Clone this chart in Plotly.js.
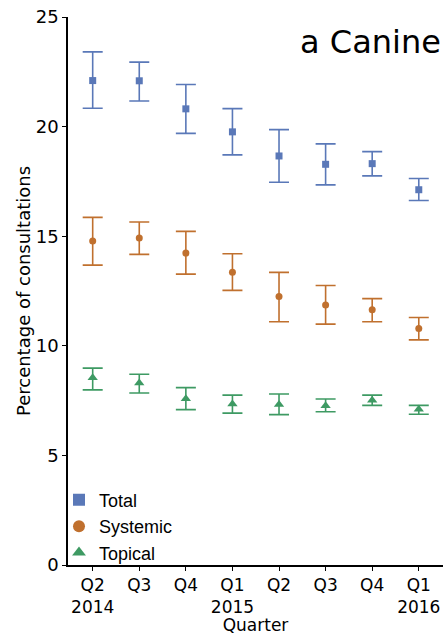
<!DOCTYPE html>
<html>
<head>
<meta charset="utf-8">
<script src="https://cdn.plot.ly/plotly-3.0.1.min.js"></script>
<style>html,body{margin:0;padding:0;background:#fff;}#chart{width:446px;height:635px;}</style>
</head>
<body>
<div id="chart"></div>
<script>
const quarters = [0, 1, 2, 3, 4, 5, 6, 7];
const tickLabels = ["Q2<br>2014", "Q3", "Q4", "Q1<br>2015", "Q2", "Q3", "Q4", "Q1<br>2016"];

const totalMean  = [22.10, 22.09, 20.81, 19.76, 18.66, 18.28, 18.31, 17.12];
const totalUpper = [23.41, 22.94, 21.92, 20.82, 19.86, 19.21, 18.86, 17.63];
const totalLower = [20.84, 21.17, 19.69, 18.71, 17.46, 17.34, 17.75, 16.63];

const systemicMean  = [14.78, 14.92, 14.23, 13.35, 12.25, 11.86, 11.64, 10.79];
const systemicUpper = [15.86, 15.65, 15.22, 14.20, 13.35, 12.75, 12.15, 11.29];
const systemicLower = [13.68, 14.17, 13.27, 12.53, 11.10, 10.99, 11.10, 10.27];

const topicalMean  = [8.54, 8.30, 7.59, 7.34, 7.32, 7.26, 7.52, 7.11];
const topicalUpper = [8.98, 8.70, 8.09, 7.75, 7.80, 7.57, 7.75, 7.28];
const topicalLower = [7.99, 7.85, 7.09, 6.93, 6.86, 6.99, 7.28, 6.88];

function mk(name, mean, up, lo, color, symbol, size) {
  return {
    type: 'scatter', mode: 'markers', name: name,
    x: quarters, y: mean,
    marker: {color: color, symbol: symbol, size: size},
    error_y: {
      type: 'data', symmetric: false,
      array: up.map((u, i) => u - mean[i]),
      arrayminus: lo.map((l, i) => mean[i] - l),
      color: color, thickness: 1.6, width: 10
    }
  };
}

const data = [
  mk('Total', totalMean, totalUpper, totalLower, '#5a78b8', 'square', 7),
  mk('Systemic', systemicMean, systemicUpper, systemicLower, '#c0702e', 'circle', 7),
  mk('Topical', topicalMean, topicalUpper, topicalLower, '#3e9a63', 'triangle-up', 9)
];

const dv = {family: 'DejaVu Sans, sans-serif', color: '#000'};
const ar = {family: 'Liberation Sans, Arial, sans-serif', color: '#000'};

const layout = {
  width: 446, height: 635,
  margin: {l: 68, r: 3, t: 17, b: 70},
  paper_bgcolor: '#fff', plot_bgcolor: '#fff',
  font: Object.assign({size: 18}, dv),
  showlegend: true,
  legend: {
    x: -0.024, y: -0.012, xanchor: 'left', yanchor: 'bottom',
    bgcolor: 'rgba(0,0,0,0)', itemsizing: 'constant',
    font: Object.assign({size: 18}, ar),
    tracegroupgap: 0, itemwidth: 30
  },
  xaxis: {
    range: [-0.53, 7.52],
    tickmode: 'array', tickvals: quarters, ticktext: tickLabels,
    showgrid: false, zeroline: false,
    showline: true, linecolor: '#000', linewidth: 1.5,
    ticks: 'outside', ticklen: 4, tickcolor: '#000',
    tickfont: Object.assign({size: 17}, dv),
    title: {text: 'Quarter', font: Object.assign({size: 17}, dv), standoff: 2}
  },
  yaxis: {
    range: [0, 25],
    tickvals: [0, 5, 10, 15, 20, 25],
    showgrid: false, zeroline: false,
    showline: true, linecolor: '#000', linewidth: 1.5,
    ticks: 'outside', ticklen: 4, tickcolor: '#000',
    tickfont: Object.assign({size: 18}, dv),
    title: {text: 'Percentage of consultations', font: Object.assign({size: 18}, dv), standoff: 0}
  },
  annotations: [{
    text: 'a Canine', xref: 'paper', yref: 'paper', x: 1, y: 0.955,
    xanchor: 'right', yanchor: 'middle', showarrow: false,
    font: Object.assign({size: 32}, dv)
  }]
};

Plotly.newPlot('chart', data, layout, {displayModeBar: false, responsive: false});
</script>
</body>
</html>
